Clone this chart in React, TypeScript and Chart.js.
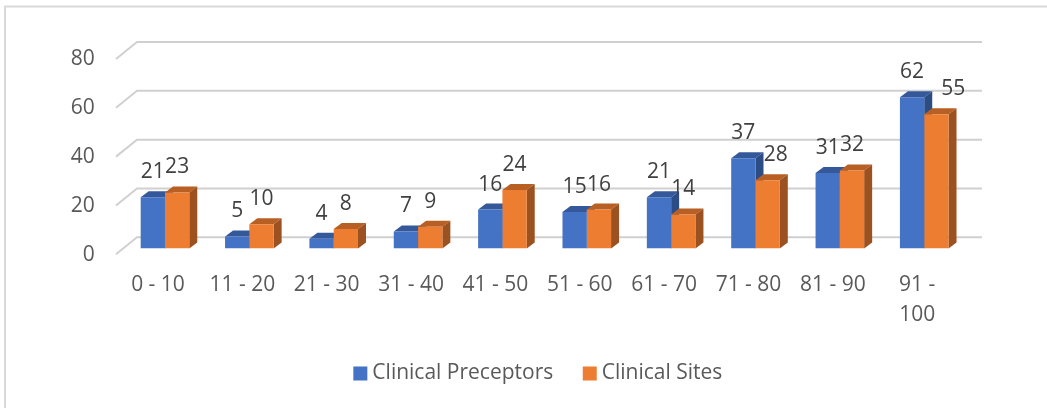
import React, { useEffect, useRef } from "react";
import { Chart, registerables } from "chart.js";

Chart.register(...registerables);

const categories = ["0 - 10", "11 - 20", "21 - 30", "31 - 40", "41 - 50", "51 - 60", "61 - 70", "71 - 80", "81 - 90", ["91 -", "100"]];
const clinicalPreceptors = [21, 5, 4, 7, 16, 15, 21, 37, 31, 62];
const clinicalSites = [23, 10, 8, 9, 24, 16, 14, 28, 32, 55];
const yTicks = [0, 20, 40, 60, 80];

const FONT = "'Open Sans', sans-serif";
const FRONT = ["#4472C4", "#ED7D31"];
const TOP = ["#34589A", "#B85F24"];
const SIDE = ["#2C4C86", "#9C5120"];
const labelNudge: Record<string, number> = { "1:7": 8, "1:9": 17 };

const depthPlugin = {
  id: "depth",
  afterLayout(chart: any) {
    chart.legend.left += 31;
    chart.legend.right += 31;
  },
  beforeDraw(chart: any) {
    const { ctx } = chart;
    ctx.save();
    ctx.strokeStyle = "#D9D9D9";
    ctx.lineWidth = 2;
    ctx.beginPath();
    ctx.moveTo(5, 408);
    ctx.lineTo(5, 6.5);
    ctx.lineTo(1047, 6.5);
    ctx.stroke();
    ctx.restore();
  },
  beforeDatasetsDraw(chart: any) {
    const { ctx, scales } = chart;
    ctx.save();
    ctx.strokeStyle = "#D0D0D0";
    ctx.lineWidth = 2;
    for (const t of scales.y.ticks) {
      const y = scales.y.getPixelForValue(t.value);
      ctx.beginPath();
      ctx.moveTo(116, y + 5.7);
      ctx.lineTo(137, y - 11.3);
      ctx.lineTo(982, y - 11.3);
      ctx.stroke();
    }
    chart.data.datasets.forEach((_: any, i: number) => {
      chart.getDatasetMeta(i).data.forEach((b: any) => {
        const l = b.x - b.width / 2;
        const r = b.x + b.width / 2;
        const dx = 8;
        const dy = 6;
        ctx.fillStyle = TOP[i];
        ctx.beginPath();
        ctx.moveTo(l, b.y);
        ctx.lineTo(l + dx, b.y - dy);
        ctx.lineTo(r + dx, b.y - dy);
        ctx.lineTo(r, b.y);
        ctx.closePath();
        ctx.fill();
        ctx.fillStyle = SIDE[i];
        ctx.beginPath();
        ctx.moveTo(r, b.y);
        ctx.lineTo(r + dx, b.y - dy);
        ctx.lineTo(r + dx, b.base - dy);
        ctx.lineTo(r, b.base);
        ctx.closePath();
        ctx.fill();
      });
    });
    ctx.restore();
  },
  afterDatasetsDraw(chart: any) {
    const { ctx } = chart;
    ctx.save();
    ctx.font = `21px ${FONT}`;
    ctx.fillStyle = "#404040";
    ctx.textAlign = "center";
    ctx.textBaseline = "middle";
    chart.data.datasets.forEach((ds: any, i: number) => {
      chart.getDatasetMeta(i).data.forEach((b: any, j: number) => {
        ctx.fillText(String(ds.data[j]), b.x + (labelNudge[`${i}:${j}`] || 0), b.y - 25);
      });
    });
    ctx.restore();
  },
};

export default function App() {
  const ref = useRef<HTMLCanvasElement>(null);
  useEffect(() => {
    const chart = new Chart(ref.current!, {
      type: "bar",
      data: {
        labels: categories as any,
        datasets: [
          { label: "Clinical Preceptors", data: clinicalPreceptors, backgroundColor: FRONT[0] },
          { label: "Clinical Sites", data: clinicalSites, backgroundColor: FRONT[1] },
        ],
      },
      options: {
        animation: false,
        responsive: false,
        layout: { padding: { left: 52.8, right: 80.6, top: 53.3, bottom: 14 } },
        datasets: { bar: { barPercentage: 1, categoryPercentage: 0.576 } },
        plugins: {
          tooltip: { enabled: false },
          legend: {
            position: "bottom",
            labels: {
              usePointStyle: true,
              pointStyle: "rect",
              boxHeight: 14,
              boxWidth: 3,
              padding: 35,
              color: "#595959",
              font: { family: FONT, size: 21 },
            },
          },
        },
        scales: {
          x: {
            grid: { display: false },
            border: { display: false },
            afterFit(s: any) { s.height = 79.4; },
            ticks: { color: "#595959", font: { family: FONT, size: 21, lineHeight: 1.43 }, padding: 13, maxRotation: 0, autoSkip: false, labelOffset: -7 },
          },
          y: {
            min: 0,
            max: 80,
            grid: { display: false },
            border: { display: false },
            afterFit(s: any) { s.width = 70; },
            afterBuildTicks(s: any) { s.ticks = yTicks.map((value) => ({ value })); },
            ticks: { color: "#595959", font: { family: FONT, size: 21 }, padding: 20, labelOffset: 6 },
          },
        },
      } as any,
      plugins: [depthPlugin],
    });
    return () => chart.destroy();
  }, []);
  return (
    <div style={{ position: "fixed", left: 0, top: 0, width: 1047, height: 408, background: "#fff" }}>
      <canvas ref={ref} width={1047} height={408} style={{ display: "block" }} />
    </div>
  );
}
